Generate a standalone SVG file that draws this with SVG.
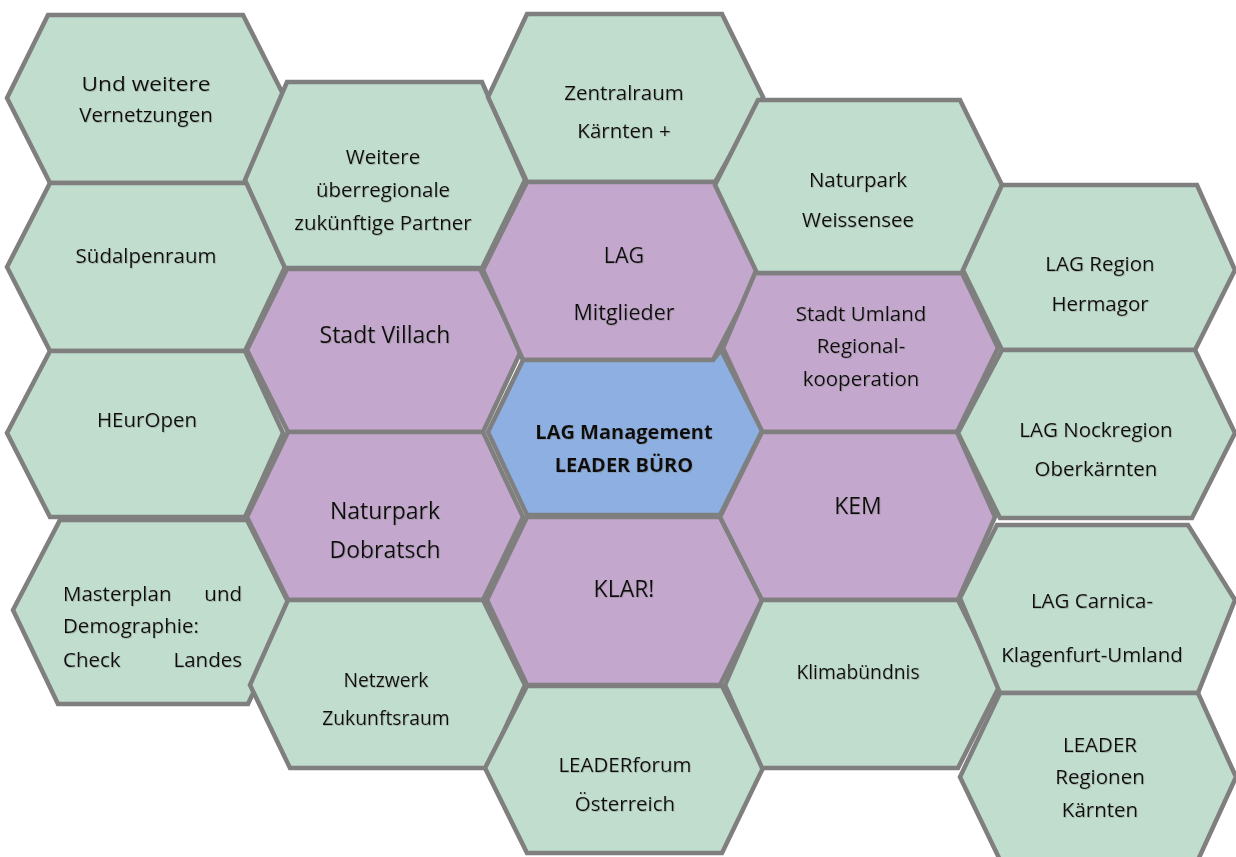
<svg xmlns="http://www.w3.org/2000/svg" width="1236" height="857" viewBox="0 0 1236 857">
<defs>
<filter id="sh" x="-5%" y="-20%" width="110%" height="140%"><feDropShadow dx="0.8" dy="0.8" stdDeviation="0.6" flood-color="#777" flood-opacity="0.45"/></filter>
<style>
.hex{stroke:#7f7f7f;stroke-width:4.5;stroke-linejoin:miter}
.g{fill:#c1ddcd}
.p{fill:#c4a7cd}
.b{fill:#8dafe2}
text{font-family:"Open Sans","Liberation Sans",sans-serif;font-size:20.5px;fill:#111;text-anchor:middle;filter:url(#sh)}
.bold{font-weight:bold;font-size:20px}
.big{font-size:23px}
.mid{font-size:21.5px}
.sm{font-size:19.3px}
.l{text-anchor:start}
.r{text-anchor:end}
</style>
</defs>
<rect width="1236" height="857" fill="#ffffff"/>
<g id="connectors"></g>
<g id="n-und-weitere"><polygon class="hex g" points="48,15 243,15 285,98 247,183 50,183 7,98"/><text x="146" y="91" textLength="129" lengthAdjust="spacingAndGlyphs">Und weitere</text><text x="146" y="122">Vernetzungen</text></g>
<g id="n-suedalpenraum"><polygon class="hex g" points="50,183 247,183 285,267 245,351 50,351 7,267"/><text x="146" y="263">Südalpenraum</text></g>
<g id="n-heuropen"><polygon class="hex g" points="50,351 245,351 283,433 245,517 50,517 7,433"/><text x="147" y="427">HEurOpen</text></g>
<g id="n-masterplan"><polygon class="hex g" points="60,520 247,520 292,610 248,704 58,704 13,610"/><text class="l" x="63" y="601">Masterplan</text><text class="r" x="242" y="601">und</text><text class="l" x="63" y="633">Demographie:</text><text class="l" x="63" y="667">Check</text><text class="r" x="242" y="667">Landes</text></g>
<g id="n-weitere"><polygon class="hex g" points="287,82 482,82 525,180 482,268 285,268 245,180"/><text x="383" y="164">Weitere</text><text x="383" y="197">überregionale</text><text x="383" y="230">zukünftige Partner</text></g>
<g id="n-villach"><polygon class="hex p" points="287,269 480,269 521,351 483,432 288,432 247,350"/><text class="big" x="385" y="343">Stadt Villach</text></g>
<g id="n-dobratsch"><polygon class="hex p" points="288,432 483,432 523,517 483,600 288,600 247,517"/><text class="big" x="385" y="519">Naturpark</text><text class="big" x="385" y="558">Dobratsch</text></g>
<g id="n-netzwerk"><polygon class="hex g" points="288,600 483,600 525,685 487,768 290,768 250,685"/><text class="sm" x="386" y="687">Netzwerk</text><text class="sm" x="386" y="725">Zukunftsraum</text></g>
<g id="n-zentralraum"><polygon class="hex g" points="527,14 722,14 763,97 715,182 527,182 488,97"/><text x="624" y="100">Zentralraum</text><text x="624" y="138">Kärnten +</text></g>
<g id="n-mitglieder"><polygon class="hex p" points="527,182 715,182 760,270 713,360 523,360 483,270"/><text class="mid" x="624" y="263">LAG</text><text class="mid" x="624" y="320">Mitglieder</text></g>
<g id="n-stadt-umland"><polygon class="hex p" points="755,273 962,273 998,348 957,432 762,432 723,348"/><text x="861" y="321">Stadt Umland</text><text x="861" y="353">Regional-</text><text x="861" y="386">kooperation</text></g>
<g id="n-management"><polygon class="hex b" points="523,360 713,360 721,350 762,431 720,515 527,515 488,432"/><text class="bold" x="624" y="439">LAG Management</text><text class="bold" x="624" y="472">LEADER BÜRO</text></g>
<g id="n-klar"><polygon class="hex p" points="527,517 720,517 762,600 720,685 527,685 487,600"/><text class="big" x="624" y="597">KLAR!</text></g>
<g id="n-leaderforum"><polygon class="hex g" points="527,686 722,686 763,768 722,853 527,853 485,768"/><text x="625" y="772">LEADERforum</text><text x="625" y="811">Österreich</text></g>
<g id="n-weissensee"><polygon class="hex g" points="758,100 960,100 1002,185 962,273 757,273 715,185"/><text x="858" y="187">Naturpark</text><text x="858" y="227">Weissensee</text></g>
<g id="n-kem"><polygon class="hex p" points="762,432 957,432 995,517 958,600 762,600 720,517"/><text class="big" x="858" y="514">KEM</text></g>
<g id="n-klimabuendnis"><polygon class="hex g" points="762,600 958,600 1000,685 958,768 762,768 725,685"/><text class="sm" x="858" y="679">Klimabündnis</text></g>
<g id="n-hermagor"><polygon class="hex g" points="1002,185 1197,185 1235,270 1195,350 1002,350 963,270"/><text x="1100" y="271">LAG Region</text><text x="1100" y="311">Hermagor</text></g>
<g id="n-nockregion"><polygon class="hex g" points="1002,350 1195,350 1235,433 1192,518 1000,518 958,433"/><text x="1096" y="437">LAG Nockregion</text><text x="1096" y="476">Oberkärnten</text></g>
<g id="n-carnica"><polygon class="hex g" points="997,525 1188,525 1235,600 1198,693 1000,693 960,598"/><text x="1092" y="608">LAG Carnica-</text><text x="1092" y="662">Klagenfurt-Umland</text></g>
<g id="n-leader-regionen"><polygon class="hex g" points="1000,693 1198,693 1236,777 1198,860 1000,860 960,777"/><text x="1100" y="752">LEADER</text><text x="1100" y="784">Regionen</text><text x="1100" y="817">Kärnten</text></g>
</svg>
